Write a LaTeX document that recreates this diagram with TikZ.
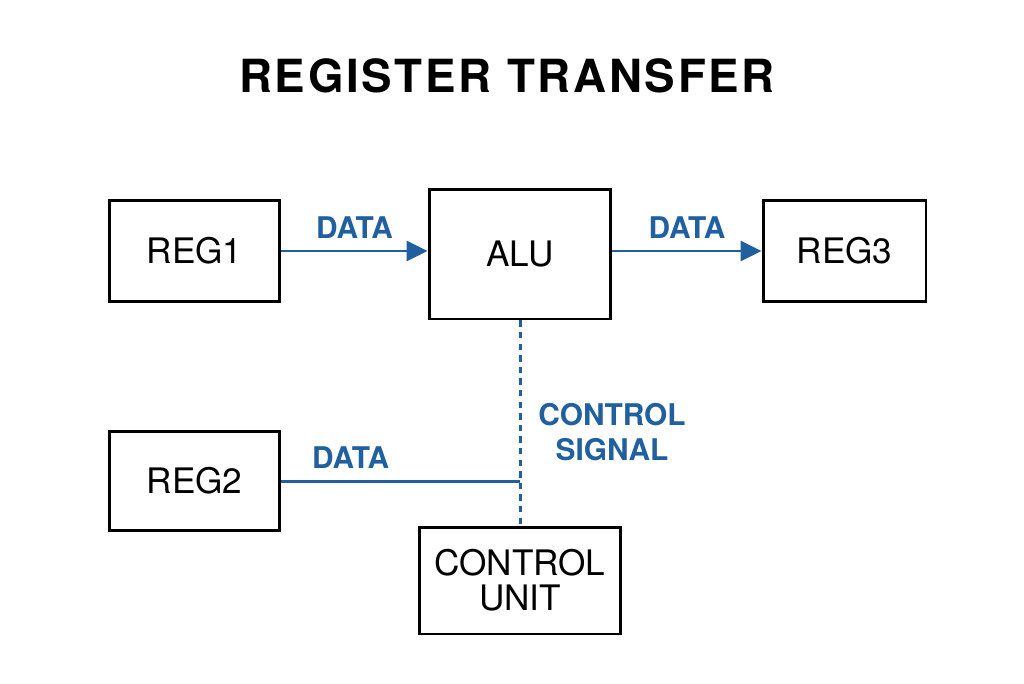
\documentclass[tikz,border=0pt]{standalone}
\usepackage{fontspec}
\setmainfont{TeX Gyre Heros}
\usepackage{tikz}
\usetikzlibrary{positioning,arrows.meta}
\usepackage{xcolor}
\definecolor{sigblue}{RGB}{32,96,160}
\tikzset{
  blk/.style={rectangle,draw,line width=1.7pt,inner sep=0pt,font=\fontsize{20}{20}\selectfont,align=center},
  lbl/.style={text=sigblue,font=\fontsize{17}{19.5}\selectfont\bfseries,align=center,inner sep=0pt},
  flow/.style={-{Triangle[length=4.2mm,width=4mm]},draw=sigblue,line width=1.7pt},
  wire/.style={draw=sigblue,line width=1.7pt},
  ctl/.style={draw=sigblue,line width=1.7pt,dash pattern=on 3.6pt off 3pt}
}
\begin{document}
\begin{tikzpicture}[x=0.02cm,y=-0.02cm]
\useasboundingbox (0,0) rectangle (1024,683);
\node[font=\fontsize{26}{30}\selectfont\bfseries\addfontfeature{LetterSpace=6}] (title) at (507,76) {REGISTER TRANSFER};
\node[blk,minimum width=3.42cm,minimum height=2.02cm] (reg1) at (194.5,251) {REG1};
\node[blk,minimum width=3.64cm,minimum height=2.6cm] (alu) at (520,254) {ALU};
\node[blk,minimum width=3.26cm,minimum height=2.02cm] (reg3) at (844.5,251) {REG3};
\node[blk,minimum width=3.42cm,minimum height=1.98cm] (reg2) at (194.5,481) {REG2};
\node[blk,minimum width=4.04cm,minimum height=2.14cm] (cu) at (520,580.5) {CONTROL\\UNIT};
\coordinate (tap) at (alu.south |- reg2.east);
\draw[flow] (reg1.east) -- (reg1.east -| alu.west) node[lbl,midway,above=2.2mm] {DATA};
\draw[flow] (alu.east |- reg3.west) -- (reg3.west) node[lbl,midway,above=2.2mm] {DATA};
\draw[wire] (reg2.east) -- (tap) node[lbl,pos=0.29,above=2.2mm] {DATA};
\draw[ctl] (alu.south) -- (cu.north);
\node[lbl] (sig) at (612,432) {CONTROL\\SIGNAL};
\end{tikzpicture}
\end{document}
